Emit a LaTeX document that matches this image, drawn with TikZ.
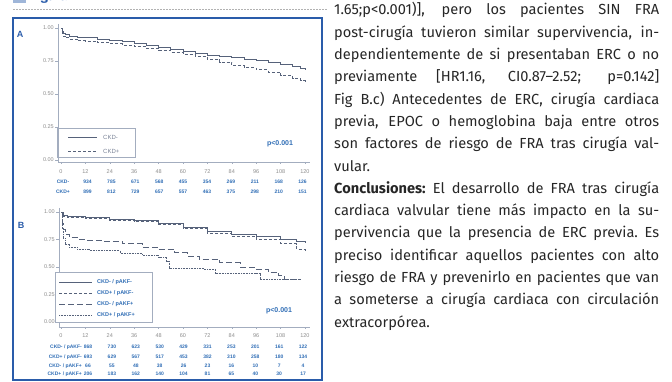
\documentclass[tikz,border=0pt]{standalone}
\usepackage{fontspec}
\setmainfont{Fira Sans}
\newfontfamily\figfont{Liberation Sans}
\usetikzlibrary{positioning}
\definecolor{figblue}{HTML}{2A5CAA}
\definecolor{numblue}{HTML}{2F6DB5}
\definecolor{curvegray}{HTML}{56627A}
\definecolor{tickgray}{HTML}{8C8C8C}
\definecolor{axisgray}{HTML}{A3ADBF}
\definecolor{bodytext}{HTML}{262626}
\tikzset{ticklab/.style={font=\figfont\fontsize{5.5}{6}\selectfont,text=tickgray,inner sep=0pt}}
\tikzset{risknum/.style={font=\figfont\bfseries\fontsize{5}{6}\selectfont,text=numblue,inner sep=0pt}}
\tikzset{rowlab/.style={risknum,anchor=east}}
\tikzset{legtext/.style={font=\figfont\fontsize{6}{7}\selectfont,text=curvegray!80,inner sep=0pt,anchor=west}}
\tikzset{plab/.style={font=\figfont\bfseries\fontsize{7}{8}\selectfont,text=numblue,inner sep=0pt}}
\tikzset{kmline/.style={curvegray,line width=0.8pt}}
\tikzset{kmdash/.style={kmline,dash pattern=on 3pt off 2pt}}
\tikzset{kmlong/.style={kmline,dash pattern=on 6pt off 3pt}}
\tikzset{kmdot/.style={kmline,line width=0.5pt,dash pattern=on 0.8pt off 0.8pt}}
% one justified line of the text column
\newcommand{\jline}[1]{\hbox to 325pt{\spaceskip=\fontdimen2\font plus 1fil\relax\xspaceskip=\spaceskip #1}}

\begin{document}
\begin{tikzpicture}[
x = 1pt, y = -1pt, % pixel grid, y downwards
axisline/.style = {axisgray, line width=0.5pt},
legbox/.style = {draw=axisgray, line width=0.5pt}
]
\useasboundingbox (0,0) rectangle (672,382);

% heading and frame
\fill[figblue!45] (13,-2) rectangle (26,3);
\node[font=\bfseries\fontsize{13}{14}\selectfont, text=figblue, anchor=base west, inner sep=0pt] (titulo) at (31,1) {Figura};
\draw[gray!60, line width=0.5pt, dash pattern=on 1.5pt off 1.5pt] (13,9) -- (327,9);
\draw[figblue, line width=1.2pt] (13,18) rectangle (322,380);

% ---------- panel A ----------
\node[font=\figfont\bfseries\fontsize{9}{10}\selectfont, text=figblue] (labA) at (20,34) {A};
\draw[axisline] (58,24) -- (58,162) -- (310,162);
\foreach \s [count=\k] in {0.00,0.25,0.50,0.75,1.00} {
  \draw[axisline] (55,{160-132*\s}) -- (58,{160-132*\s});
  \node[ticklab, anchor=east] (ya\k) at (54,{160-132*\s}) {\s};
}
\foreach \m in {0,12,...,120} {
  \draw[axisline] ({61+2.033*\m},162) -- ++(0,2);
  \node[ticklab] (xa\m) at ({61+2.033*\m},172) {\m};
}
\begin{scope}[shift={(61,160)}, x=2.033pt, y=132pt]
\draw[kmline] plot[const plot] coordinates {(0,1) (0.5,0.975) (1,0.96) (2,0.95) (4,0.94) (8,0.93) (12,0.925) (18,0.915) (24,0.905) (30,0.895) (36,0.885) (42,0.87) (48,0.855) (54,0.84) (60,0.825) (66,0.81) (72,0.795) (78,0.785) (84,0.775) (90,0.765) (96,0.755) (102,0.74) (108,0.725) (114,0.71) (118,0.695) (120,0.68)};
\draw[kmdash] plot[const plot] coordinates {(0,1) (0.5,0.96) (1,0.94) (2,0.925) (4,0.915) (8,0.905) (12,0.9) (18,0.89) (24,0.88) (30,0.87) (36,0.86) (42,0.845) (48,0.83) (54,0.815) (60,0.8) (66,0.785) (72,0.765) (78,0.74) (84,0.715) (90,0.7) (96,0.685) (102,0.665) (108,0.64) (114,0.615) (118,0.6) (120,0.595)};
\end{scope}
\draw[legbox] (57,128) rectangle (135,157);
\draw[kmline] (68,137) -- (97,137);
\draw[kmdash] (68,151) -- (97,151);
\node[legtext] (lga1) at (103,137) {CKD-};
\node[legtext] (lga2) at (103,151) {CKD+};
\node[plab] (pa) at (280,144) {p<0.001};
% numbers at risk A
\node[risknum] (ra1) at (63,182) {CKD-};
\node[risknum] (ra2) at (63,192) {CKD+};
\foreach \v [count=\i from 0] in {934,785,671,568,455,354,269,211,168,126}
  \node[risknum] (na1-\i) at ({87.5+23.9*\i},182) {\v};
\foreach \v [count=\i from 0] in {899,812,729,657,557,463,375,298,210,151}
  \node[risknum] (na2-\i) at ({87.5+23.9*\i},192) {\v};

% ---------- panel B ----------
\node[font=\figfont\bfseries\fontsize{9}{10}\selectfont, text=figblue] (labB) at (21,225) {B};
\draw[axisline] (59,208) -- (59,327) -- (310,327);
\foreach \s [count=\k] in {0.00,0.25,0.50,0.75,1.00} {
  \draw[axisline] (56,{322-110*\s}) -- (59,{322-110*\s});
  \node[ticklab, anchor=east] (yb\k) at (55,{322-110*\s}) {\s};
}
\foreach \m in {0,12,...,120} {
  \draw[axisline] ({61+2.033*\m},327) -- ++(0,2);
  \node[ticklab] (xb\m) at ({61+2.033*\m},336) {\m};
}
\begin{scope}[shift={(61,322)}, x=2.033pt, y=110pt]
\draw[kmline] plot[const plot] coordinates {(0,1) (1,0.97) (3,0.96) (12,0.95) (24,0.935) (36,0.92) (48,0.895) (60,0.86) (72,0.82) (84,0.8) (96,0.78) (108,0.75) (116,0.73) (120,0.72)};
\draw[kmdash] plot[const plot] coordinates {(0,1) (1,0.96) (3,0.95) (12,0.94) (24,0.925) (36,0.91) (48,0.885) (60,0.855) (72,0.81) (84,0.78) (96,0.75) (108,0.71) (116,0.66) (120,0.64)};
\draw[kmlong] plot[const plot] coordinates {(0,1) (0.5,0.9) (1,0.84) (2,0.8) (4,0.77) (8,0.755) (12,0.745) (20,0.735) (30,0.71) (40,0.68) (48,0.66) (56,0.63) (62,0.6) (68,0.57) (78,0.54) (88,0.5) (96,0.48) (102,0.45) (107,0.42) (110,0.39) (118,0.38)};
\draw[kmdot] plot[const plot] coordinates {(0,1) (0.5,0.85) (1,0.76) (2,0.71) (4,0.68) (8,0.665) (14,0.65) (29,0.625) (40,0.61) (48,0.59) (52,0.55) (53,0.49) (70,0.48) (76,0.44) (96,0.44) (98,0.39) (118,0.39)};
\end{scope}
\draw[legbox, fill=white] (55,272) rectangle (152,322);
\draw[kmline] (59,282) -- (92,282);
\draw[kmdash] (59,293) -- (92,293);
\draw[kmlong] (59,304) -- (92,304);
\draw[kmdot] (59,315) -- (92,315);
\node[legtext, font=\figfont\bfseries\fontsize{5.5}{6}\selectfont, text=numblue] (lgb1) at (97,282) {CKD- / pAKF-};
\node[legtext, font=\figfont\bfseries\fontsize{5.5}{6}\selectfont, text=numblue] (lgb2) at (97,293) {CKD+ / pAKF-};
\node[legtext, font=\figfont\bfseries\fontsize{5.5}{6}\selectfont, text=numblue] (lgb3) at (97,304) {CKD- / pAKF+};
\node[legtext, font=\figfont\bfseries\fontsize{5.5}{6}\selectfont, text=numblue] (lgb4) at (97,315) {CKD+ / pAKF+};
\node[plab] (pb) at (279,311) {p<0.001};
% numbers at risk B
\node[rowlab] (rb1) at (82,347) {CKD- / pAKF-};
\node[rowlab] (rb2) at (82,357) {CKD+ / pAKF-};
\node[rowlab] (rb3) at (82,366) {CKD- / pAKF+};
\node[rowlab] (rb4) at (82,374) {CKD+ / pAKF+};
\foreach \v [count=\i from 0] in {868,730,623,530,429,331,253,201,161,122}
  \node[risknum] (nb1-\i) at ({88+23.9*\i},347) {\v};
\foreach \v [count=\i from 0] in {693,629,567,517,453,382,310,258,180,134}
  \node[risknum] (nb2-\i) at ({88+23.9*\i},357) {\v};
\foreach \v [count=\i from 0] in {66,55,48,38,26,23,16,10,7,4}
  \node[risknum] (nb3-\i) at ({88+23.9*\i},366) {\v};
\foreach \v [count=\i from 0] in {206,183,162,140,104,81,65,40,30,17}
  \node[risknum] (nb4-\i) at ({88+23.9*\i},374) {\v};

% ---------- text column ----------
\node[anchor=base west, inner sep=0pt, text width=325pt, text=bodytext,
      font=\fontsize{14.6}{22.3}\selectfont] (resumen) at (334,15) {%
\jline{1.65;p<0.001)], pero los pacientes SIN FRA}
\jline{post-cirugía tuvieron similar supervivencia, in-}
\jline{dependientemente de si presentaban ERC o no}
\jline{previamente [HR1.16, CI0.87–2.52; p=0.142]}
\jline{Fig B.c) Antecedentes de ERC, cirugía cardiaca}
\jline{previa, EPOC o hemoglobina baja entre otros}
\jline{son factores de riesgo de FRA tras cirugía val-}
\jline{vular.\hfill}
\jline{\textbf{Conclusiones:} El desarrollo de FRA tras cirugía}
\jline{cardiaca valvular tiene más impacto en la su-}
\jline{pervivencia que la presencia de ERC previa. Es}
\jline{preciso identificar aquellos pacientes con alto}
\jline{riesgo de FRA y prevenirlo en pacientes que van}
\jline{a someterse a cirugía cardiaca con circulación}
\jline{extracorpórea.\hfill}};
\end{tikzpicture}
\end{document}
